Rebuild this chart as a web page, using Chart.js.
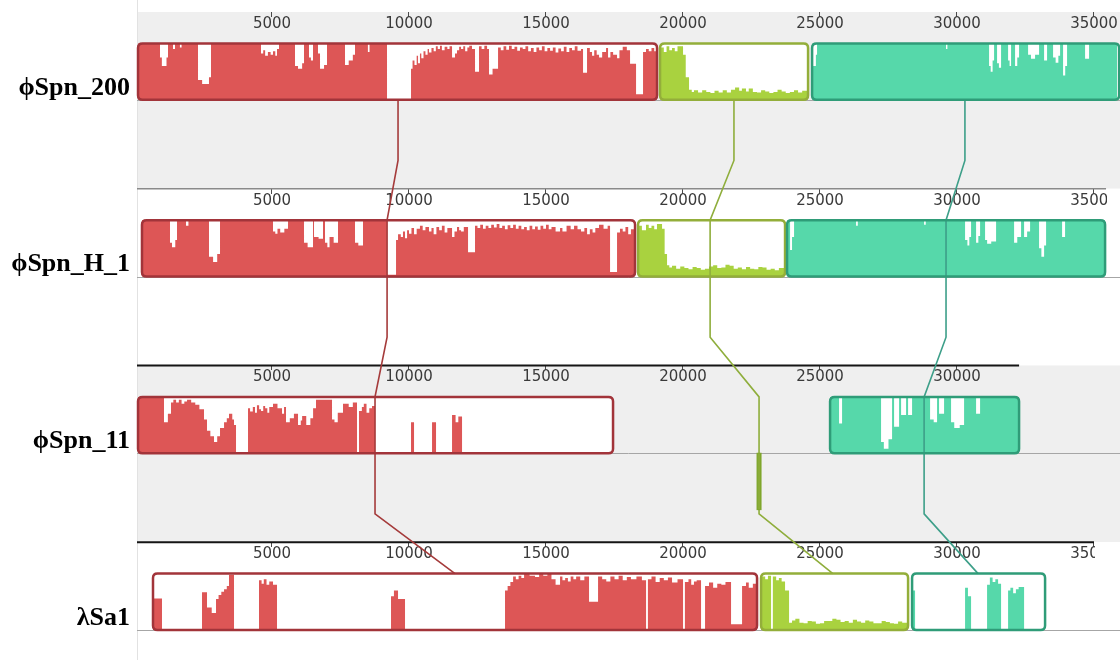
<!DOCTYPE html>
<html><head><meta charset="utf-8">
<script src="https://cdn.jsdelivr.net/npm/chart.js@4.4.1/dist/chart.umd.min.js"></script>
<style>html,body{margin:0;padding:0;background:#fff;overflow:hidden}canvas{display:block}</style>
</head><body>
<canvas id="c" width="1120" height="660"></canvas>
<script>
// ---------------- data ----------------
const GENOMES = ['ϕSpn_200', 'ϕSpn_H_1', 'ϕSpn_11', 'λSa1'];
const GENOME_LEN = [35916, 35440, 32266, 35000];
const RULER_TICKS = [5000, 10000, 15000, 20000, 25000, 30000, 35000];

// LCB boxes: [track, lcb (0 red,1 green,2 teal), start bp, end bp, strand]
const LCB_BOXES = [
  [0, 0, 110, 19053, 1], [0, 1, 19163, 24565, 1], [0, 2, 24711, 35916, 1],
  [1, 0, 255, 18250, 1], [1, 1, 18360, 23725, 1], [1, 2, 23798, 35405, 1],
  [2, 0, 110, 17447, 1], [2, 1, 22703, 22849, -1], [2, 2, 25368, 32266, 1],
  [3, 0, 657, 22703, 1], [3, 1, 22849, 28215, 1], [3, 2, 28361, 33215, 1]
];

// connecting line anchor (bp) in each genome
const LINK_RED = [9600, 9200, 8760, 11680];
const LINK_GREEN = [21860, 20990, 22776, 25470];
const LINK_TEAL = [30290, 29600, 28800, 30770];

// similarity profiles: [bp, identity fraction] step points
const PROF_T1_RED = [[110,1],[912,0.75],[980,0.6],[1150,0.75],[1204,1],[1387,0.9],[1460,1],[1640,0.93],[1700,1],[2300,0.35],[2450,0.28],[2700,0.4],[2774,1],
 [4599,0.82],[4680,0.88],[4750,0.78],[4850,0.85],[4950,0.8],[5037,0.86],[5120,0.78],[5183,0.9],[5256,1],
 [5840,0.6],[5950,0.55],[6100,0.65],[6169,1],[6351,0.75],[6420,0.7],[6497,1],[6680,0.82],[6753,0.55],[6900,0.62],[7008,1],
 [7665,0.62],[7800,0.7],[7950,0.8],[8030,1],[8500,0.85],[8560,1],
 [9198,0],[10074,0.55],[10130,0.7],[10200,0.62],[10280,0.78],[10330,0.65],[10400,0.82],[10450,0.74],[10530,0.86],[10600,0.8],
 [10680,0.9],[10731,0.84],[10820,0.92],[10900,0.86],[10980,0.95],[11050,0.9],[11130,0.96],[11200,0.88],[11300,0.94],[11400,0.9],
 [11480,0.95],[11571,0.75],[11680,0.82],[11753,0.88],[11830,0.94],[11900,0.9],[11980,0.95],[12050,0.86],[12130,0.93],[12200,0.96],
 [12300,0.9],[12410,0.5],[12556,0.95],[12650,0.9],[12750,0.96],[12850,0.9],[12921,0.45],[13050,0.55],[13250,0.93],
 [13350,0.88],[13450,0.95],[13550,0.89],[13650,0.96],[13750,0.9],[13850,0.94],[13950,0.87],[14050,0.93],[14150,0.9],[14250,0.95],
 [14350,0.86],[14450,0.92],[14550,0.85],[14650,0.93],[14750,0.88],[14850,0.95],[14950,0.86],[15050,0.92],[15150,0.87],[15250,0.93],
 [15350,0.84],[15450,0.91],[15550,0.86],[15650,0.94],[15750,0.85],[15850,0.92],[15950,0.88],[16050,0.95],[16150,0.87],[16279,0.9],
 [16352,0.48],[16498,0.92],[16600,0.85],[16681,0.78],[16760,0.88],[16850,0.8],[16936,0.75],[17050,0.85],[17192,0.92],[17265,0.75],
 [17350,0.85],[17450,0.8],[17593,0.74],[17680,0.88],[17800,0.94],[17950,0.88],[18068,0.64],[18287,0.1],[18542,0.85],[18650,0.9],
 [18750,0.86],[18850,0.92],[18950,0.86],[19053,0.86]];
const PROF_T1_GREEN = [[19163,0.93],[19300,0.85],[19400,0.95],[19500,0.88],[19600,0.92],[19700,0.86],[19800,0.95],[20002,0.8],[20100,0.4],
 [20221,0.18],[20320,0.14],[20400,0.17],[20550,0.13],[20700,0.17],[20850,0.14],[21000,0.12],[21150,0.16],[21300,0.13],[21450,0.17],
 [21600,0.13],[21750,0.18],[21900,0.22],[22050,0.16],[22150,0.2],[22300,0.15],[22400,0.2],[22550,0.14],[22700,0.13],[22850,0.17],
 [23000,0.15],[23150,0.12],[23300,0.14],[23450,0.18],[23600,0.15],[23750,0.12],[23900,0.14],[24050,0.17],[24200,0.13],[24350,0.16],[24565,0.16]];
const PROF_T1_TEAL = [[24711,1],[24747,0.6],[24850,0.8],[24893,1],[29600,0.9],[29650,1],[31171,0.6],[31230,0.5],[31300,0.7],[31354,1],
 [31463,0.65],[31530,0.57],[31609,1],[31865,0.7],[31920,0.6],[31974,1],[32120,0.6],[32200,0.75],[32266,1],[32595,0.8],[32700,0.73],
 [32850,0.8],[32996,1],[33179,0.7],[33288,1],[33507,0.75],[33600,0.66],[33700,0.78],[33763,1],[33872,0.43],[33950,0.6],[34018,1],
 [34675,0.73],[34821,1],[35916,1]];

const PROF_T2_RED = [[255,1],[1277,0.6],[1350,0.52],[1470,0.65],[1533,1],[1862,0.9],[1950,1],[2701,0.35],[2850,0.26],[3000,0.4],[3103,1],
 [5037,0.8],[5120,0.76],[5200,0.85],[5300,0.78],[5450,0.85],[5585,1],[6169,0.6],[6300,0.52],[6497,1],[6534,0.7],[6700,0.67],[6862,1],
 [6935,0.6],[7020,0.52],[7100,0.7],[7250,0.6],[7410,1],[8030,0.6],[8150,0.55],[8322,1],
 [9198,0.03],[9527,0.65],[9600,0.75],[9700,0.7],[9780,0.8],[9855,0.68],[9930,0.82],[10000,0.76],[10090,0.86],[10184,0.75],[10280,0.85],
 [10400,0.9],[10500,0.82],[10600,0.88],[10731,0.8],[10820,0.86],[10900,0.75],[11000,0.88],[11100,0.82],[11200,0.9],[11300,0.78],
 [11400,0.86],[11571,0.7],[11660,0.8],[11753,0.88],[11830,0.82],[11900,0.8],[12000,0.88],[12155,0.43],[12410,0.9],[12500,0.86],
 [12600,0.92],[12700,0.85],[12800,0.9],[12900,0.86],[13000,0.92],[13100,0.87],[13200,0.93],[13300,0.86],[13400,0.9],[13500,0.84],
 [13600,0.91],[13700,0.86],[13800,0.92],[13900,0.85],[14000,0.9],[14100,0.84],[14200,0.88],[14300,0.82],[14400,0.9],[14500,0.84],
 [14600,0.89],[14700,0.83],[14800,0.9],[14900,0.85],[15000,0.92],[15100,0.84],[15200,0.88],[15350,0.8],[15513,0.86],[15600,0.8],
 [15750,0.9],[15900,0.84],[16024,0.9],[16150,0.84],[16279,0.8],[16400,0.86],[16500,0.75],[16600,0.84],[16700,0.78],[16800,0.86],
 [16936,0.92],[17100,0.85],[17250,0.9],[17338,0.08],[17593,0.78],[17700,0.85],[17800,0.8],[17900,0.88],[18000,0.75],[18100,0.84],[18250,0.84]];
const PROF_T2_GREEN = [[18360,0.9],[18500,0.82],[18650,0.92],[18750,0.86],[18850,0.9],[18950,0.84],[19050,0.93],[19236,0.85],[19330,0.4],
 [19418,0.2],[19500,0.16],[19600,0.19],[19750,0.14],[19900,0.18],[20050,0.15],[20200,0.13],[20350,0.17],[20500,0.15],[20650,0.12],
 [20800,0.14],[20950,0.18],[21100,0.2],[21250,0.15],[21400,0.16],[21550,0.21],[21700,0.19],[21850,0.14],[22000,0.16],[22150,0.13],
 [22300,0.17],[22450,0.14],[22600,0.13],[22750,0.17],[22900,0.16],[23050,0.12],[23200,0.14],[23350,0.11],[23500,0.15],[23725,0.15]];
const PROF_T2_TEAL = [[23798,1],[23908,0.47],[23980,0.7],[24054,1],[26317,0.9],[26380,1],[28799,0.92],[28860,1],[30295,0.65],[30380,0.55],
 [30450,0.7],[30514,1],[30697,0.6],[30780,0.72],[30843,1],[31025,0.65],[31100,0.58],[31250,0.62],[31427,1],[32084,0.6],[32200,0.7],
 [32339,1],[32449,0.7],[32560,0.8],[32668,1],[32996,0.5],[33080,0.35],[33180,0.55],[33252,1],[33836,0.7],[33945,1],[35405,1]];

const PROF_T3_RED = [[110,1],[1058,0.55],[1200,0.7],[1314,0.9],[1400,0.95],[1500,0.9],[1600,0.95],[1700,0.88],[1800,0.92],[1900,0.95],
 [2050,0.9],[2200,0.86],[2350,0.78],[2519,0.6],[2628,0.4],[2750,0.3],[2884,0.2],[3000,0.3],[3103,0.45],[3250,0.55],[3350,0.62],
 [3431,0.7],[3550,0.6],[3614,0.5],[3687,0],[4125,0.8],[4200,0.74],[4300,0.82],[4380,0.72],[4450,0.85],[4530,0.78],[4600,0.75],
 [4680,0.84],[4750,0.8],[4830,0.72],[4900,0.82],[5037,0.88],[5200,0.8],[5366,0.7],[5440,0.82],[5512,0.55],[5650,0.62],[5800,0.7],
 [5950,0.5],[6050,0.58],[6100,0.66],[6250,0.5],[6400,0.62],[6500,0.8],[6607,0.95],[7191,0.6],[7280,0.55],[7400,0.72],[7592,0.88],
 [7800,0.82],[7950,0.9],[8103,0],[8176,0.75],[8280,0.82],[8350,0.88],[8450,0.72],[8550,0.8],[8650,0.84],[8760,0],[10074,0.55],
 [10184,0],[10841,0.55],[10987,0],[11571,0.68],[11700,0.55],[11800,0.65],[11936,0],[17447,0]];
const PROF_T3_GREEN = [[22703,1],[22849,1]];
const PROF_T3_TEAL = [[25368,1],[25696,0.53],[25806,1],[27229,0.2],[27330,0.08],[27500,0.25],[27631,1],[27704,0.47],[27887,1],[27960,0.68],
 [28142,1],[28215,0.68],[28361,1],[29018,0.6],[29150,0.55],[29273,1],[29346,0.7],[29529,1],[29784,0.55],[29900,0.45],[30100,0.5],
 [30259,1],[30697,0.7],[30843,1],[32266,1]];

const PROF_T4_RED = [[657,0.56],[985,0],[2446,0.67],[2628,0.4],[2800,0.3],[2957,0.55],[3050,0.62],[3150,0.68],[3250,0.72],[3350,0.78],
 [3431,0.98],[3614,0],[4526,0.88],[4620,0.82],[4700,0.9],[4800,0.8],[4900,0.86],[5037,0.8],[5183,0],[9344,0.6],[9450,0.7],[9600,0.55],
 [9855,0],[13505,0.7],[13600,0.78],[13700,0.85],[13800,0.95],[13900,0.9],[14000,0.96],[14100,0.92],[14200,1],[14400,0.96],[14600,0.94],
 [14750,1],[14900,0.96],[15050,1],[15200,0.9],[15350,0.8],[15513,0.95],[15600,0.88],[15700,0.92],[15800,0.86],[15900,0.95],[16000,0.9],
 [16100,0.95],[16250,0.88],[16400,0.95],[16571,0.5],[16900,0.95],[17050,0.9],[17200,0.86],[17350,0.95],[17500,0.9],[17650,0.96],
 [17800,0.88],[17950,0.94],[18100,0.9],[18300,0.95],[18500,0.88],[18652,0],[18720,0.9],[18850,0.95],[19000,0.85],[19150,0.92],
 [19300,0.88],[19450,0.93],[19600,0.84],[19800,0.9],[20002,0],[20070,0.85],[20200,0.9],[20300,0.8],[20400,0.86],[20500,0.88],
 [20659,0],[20805,0.78],[20950,0.84],[21100,0.75],[21250,0.82],[21400,0.8],[21550,0.85],[21754,0.1],[22156,0.78],[22300,0.84],
 [22400,0.75],[22550,0.82],[22703,0.82]];
const PROF_T4_GREEN = [[22849,0.95],[23000,0.9],[23100,0.96],[23214,0],[23280,0.95],[23400,0.88],[23500,0.92],[23600,0.86],[23725,0.7],
 [23871,0.13],[23980,0.17],[24100,0.2],[24250,0.13],[24400,0.12],[24550,0.16],[24700,0.15],[24850,0.11],[25000,0.12],[25150,0.16],
 [25300,0.16],[25450,0.2],[25600,0.18],[25750,0.14],[25900,0.16],[26050,0.13],[26200,0.18],[26350,0.15],[26500,0.13],[26650,0.17],
 [26800,0.15],[26950,0.12],[27100,0.12],[27250,0.16],[27400,0.14],[27550,0.12],[27700,0.11],[27850,0.15],[28000,0.13],[28215,0.14]];
const PROF_T4_TEAL = [[28361,0.7],[28470,0],[30295,0.75],[30400,0.6],[30514,0],[31098,0.8],[31200,0.93],[31300,0.85],[31400,0.9],
 [31500,0.82],[31609,0],[31865,0.7],[31950,0.75],[32050,0.65],[32150,0.72],[32250,0.76],[32449,0],[33215,0]];

// [track, lcb, strand, profile]
const PROFILE_SET = [
  [0, 0, 1, PROF_T1_RED], [0, 1, 1, PROF_T1_GREEN], [0, 2, 1, PROF_T1_TEAL],
  [1, 0, 1, PROF_T2_RED], [1, 1, 1, PROF_T2_GREEN], [1, 2, 1, PROF_T2_TEAL],
  [2, 0, 1, PROF_T3_RED], [2, 1, -1, PROF_T3_GREEN], [2, 2, 1, PROF_T3_TEAL],
  [3, 0, 1, PROF_T4_RED], [3, 1, 1, PROF_T4_GREEN], [3, 2, 1, PROF_T4_TEAL]
];

// ---------------- layout / style ----------------
const X_MIN = 0, X_MAX = 35840;
const Y_MIN = -0.068, Y_MAX = 3.667;
const BOX_TOP = 0.178, BOX_BOTTOM = 0.497, BOX_H = BOX_BOTTOM - BOX_TOP;
const LINK_EXIT = 0.84, LABEL_V = 0.43;
const TRACK_BG = ['#efefef', '#ffffff', '#efefef', '#ffffff'];
const RULER_COLOR = [null, '#8a8a8a', '#151515', '#151515'];
const RULER_WIDTH = [0, 1.6, 2, 2];
const LCB_FILL = ['#dd5656', '#a9d23f', '#56d8aa'];
const LCB_EDGE = ['#a2343a', '#93ae3a', '#2f9c78'];
const LCB_LINE = ['#a53b3b', '#8fae3c', '#3d9f89'];
const REV_FILL = ['#b03a3a', '#7fa62c', '#2f9c78'];

function profilePoints(track, strand, prof) {
  return prof.map(([bp, f]) => ({ x: bp, y: track + BOX_BOTTOM - strand * f * BOX_H }));
}
function linkPoints(anchors) {
  const p = [];
  anchors.forEach((bp, t) => {
    if (t > 0) p.push({ x: bp, y: t + BOX_TOP }); else p.push({ x: bp, y: t + BOX_BOTTOM });
    if (t < anchors.length - 1) p.push({ x: bp, y: t + LINK_EXIT });
  });
  return p;
}

const datasets = [];
PROFILE_SET.forEach(([t, l, s, prof]) => {
  datasets.push({
    data: profilePoints(t, s, prof), stepped: true,
    fill: { value: t + BOX_BOTTOM },
    backgroundColor: s > 0 ? LCB_FILL[l] : REV_FILL[l],
    borderColor: 'rgba(0,0,0,0)', borderWidth: 0, pointRadius: 0, order: 10
  });
});
[LINK_RED, LINK_GREEN, LINK_TEAL].forEach((a, l) => {
  datasets.push({
    data: linkPoints(a), fill: false, tension: 0, borderColor: LCB_LINE[l],
    borderWidth: 1.6, pointRadius: 0, order: 1
  });
});

function roundRectPath(ctx, x, y, w, h, r) {
  r = Math.min(r, w / 2, h / 2);
  ctx.beginPath();
  ctx.moveTo(x + r, y);
  ctx.lineTo(x + w - r, y); ctx.quadraticCurveTo(x + w, y, x + w, y + r);
  ctx.lineTo(x + w, y + h - r); ctx.quadraticCurveTo(x + w, y + h, x + w - r, y + h);
  ctx.lineTo(x + r, y + h); ctx.quadraticCurveTo(x, y + h, x, y + h - r);
  ctx.lineTo(x, y + r); ctx.quadraticCurveTo(x, y, x + r, y);
  ctx.closePath();
}
function boxRect(chart, b) {
  const xs = chart.scales.x, ys = chart.scales.y;
  const [t, l, s, e, strand] = b;
  const x1 = xs.getPixelForValue(s), x2 = xs.getPixelForValue(e);
  const yA = ys.getPixelForValue(t + BOX_TOP), yB = ys.getPixelForValue(t + BOX_BOTTOM), yC = ys.getPixelForValue(t + BOX_BOTTOM + BOX_H);
  return strand > 0 ? { x: x1, y: yA, w: x2 - x1, h: yB - yA } : { x: x1, y: yB, w: x2 - x1, h: yC - yB };
}

const mauvePlugin = {
  id: 'mauve',
  beforeDraw(chart) {
    const { ctx, chartArea: a } = chart; const ys = chart.scales.y;
    ctx.save();
    ctx.fillStyle = '#ffffff'; ctx.fillRect(0, 0, chart.width, chart.height);
    for (let t = 0; t < 4; t++) {
      const y1 = ys.getPixelForValue(t), y2 = t < 3 ? ys.getPixelForValue(t + 1) : chart.height;
      ctx.fillStyle = TRACK_BG[t];
      ctx.fillRect(a.left + 2, y1, chart.width - a.left, y2 - y1);
    }
    ctx.strokeStyle = '#e2e2e2'; ctx.lineWidth = 1;
    ctx.beginPath(); ctx.moveTo(a.left + 2.5, 0); ctx.lineTo(a.left + 2.5, chart.height); ctx.stroke();
    ctx.restore();
  },
  beforeDatasetsDraw(chart) {
    const { ctx, chartArea: a } = chart; const xs = chart.scales.x, ys = chart.scales.y;
    ctx.save();
    for (let t = 0; t < 4; t++) {
      const yr = ys.getPixelForValue(t);
      const xe = xs.getPixelForValue(GENOME_LEN[t]);
      ctx.fillStyle = TRACK_BG[t];
      ctx.fillRect(xe + 1, yr + 1, chart.width - xe, 22);
      if (RULER_COLOR[t]) {
        ctx.strokeStyle = RULER_COLOR[t]; ctx.lineWidth = RULER_WIDTH[t];
        ctx.beginPath(); ctx.moveTo(a.left + 2, yr); ctx.lineTo(xe, yr); ctx.stroke();
      }
      const yc = Math.round(ys.getPixelForValue(t + BOX_BOTTOM)) + 0.5;
      ctx.strokeStyle = '#a6a6a6'; ctx.lineWidth = 1;
      ctx.beginPath(); ctx.moveTo(a.left + 2, yc); ctx.lineTo(chart.width, yc); ctx.stroke();
    }
    LCB_BOXES.forEach(b => {
      const r = boxRect(chart, b);
      ctx.fillStyle = '#ffffff';
      roundRectPath(ctx, r.x, r.y, r.w, r.h, 4); ctx.fill();
    });
    ctx.restore();
  },
  afterDatasetsDraw(chart) {
    const { ctx } = chart;
    ctx.save();
    LCB_BOXES.forEach(b => {
      const r = boxRect(chart, b);
      if (b[4] > 0) {
        ctx.strokeStyle = LCB_EDGE[b[1]]; ctx.lineWidth = 2.5;
        roundRectPath(ctx, r.x, r.y, r.w, r.h, 4.5); ctx.stroke();
      } else {
        ctx.strokeStyle = REV_FILL[b[1]]; ctx.lineWidth = 1;
        ctx.strokeRect(r.x, r.y, r.w, r.h);
      }
    });
    ctx.restore();
  }
};

function rulerAxis(t) {
  return {
    type: 'linear', axis: 'x', position: { y: t }, min: X_MIN, max: X_MAX, offset: false,
    afterBuildTicks: s => { s.ticks = RULER_TICKS.filter(v => v <= GENOME_LEN[t]).map(v => ({ value: v })); },
    grid: { display: true, drawOnChartArea: false, drawTicks: true, tickLength: 5, color: '#4a4a4a', lineWidth: 1 },
    border: { display: false },
    ticks: { autoSkip: false, maxRotation: 0, padding: -2, color: '#3a3a3a',
      font: { family: 'DejaVu Sans', size: 15 }, callback: v => String(v) }
  };
}

new Chart(document.getElementById('c'), {
  type: 'line',
  data: { datasets },
  options: {
    responsive: false, animation: false, events: [],
    layout: { padding: { left: 0, right: 3, top: 0, bottom: 0 } },
    plugins: { legend: { display: false }, tooltip: { enabled: false } },
    scales: {
      x: { type: 'linear', min: X_MIN, max: X_MAX, display: false },
      y: {
        type: 'linear', min: Y_MIN, max: Y_MAX, reverse: true, position: 'left',
        afterBuildTicks: s => { s.ticks = GENOMES.map((g, i) => ({ value: i + LABEL_V })); },
        afterFit: s => { s.width = 135; s.paddingTop = 0; s.paddingBottom = 0; },
        grid: { display: false, drawTicks: false }, border: { display: false },
        ticks: { autoSkip: false, padding: 5, color: '#000000',
          font: { family: 'Liberation Serif', size: 26, weight: 'bold' },
          callback: (v, i) => GENOMES[i] }
      },
      xr0: rulerAxis(0), xr1: rulerAxis(1), xr2: rulerAxis(2), xr3: rulerAxis(3)
    }
  },
  plugins: [mauvePlugin]
});
</script>
</body></html>
